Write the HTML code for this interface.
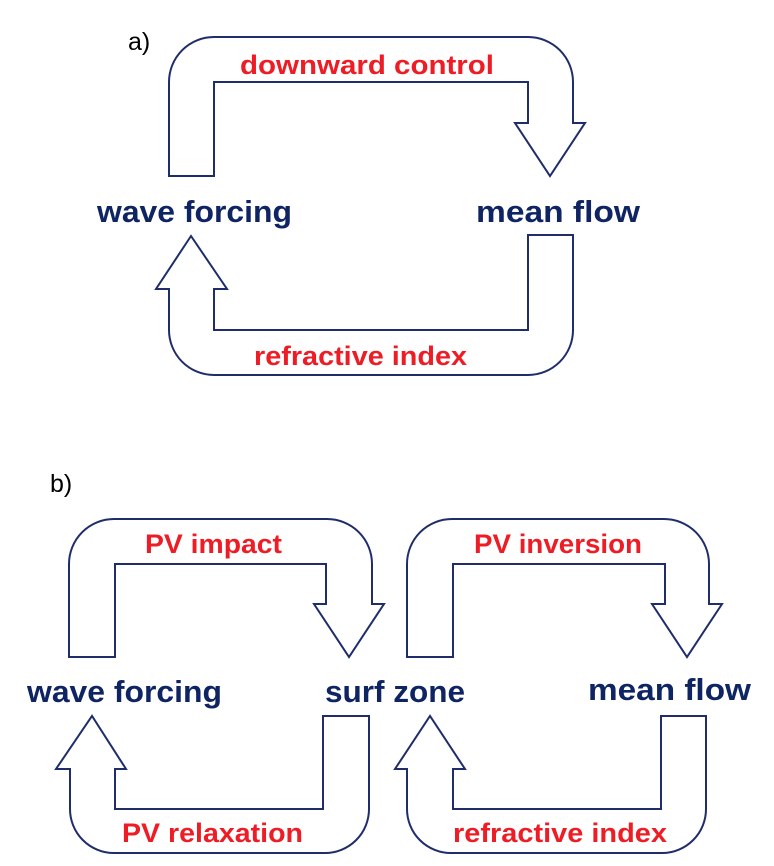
<!DOCTYPE html>
<html><head><meta charset="utf-8"><style>
html,body{margin:0;padding:0;background:#fff;}
svg{display:block;}
.n{font-family:"Liberation Sans",sans-serif;font-weight:bold;fill:#0f2462;font-size:31px;}
.r{font-family:"Liberation Sans",sans-serif;font-weight:bold;fill:#ee1c25;font-size:27px;}
.l{font-family:"Liberation Sans",sans-serif;fill:#000;font-size:25px;}
path{fill:#fff;stroke:#1f2d6b;stroke-width:2;stroke-linejoin:miter;}
</style></head><body>
<svg width="774" height="866" viewBox="0 0 774 866">
<g>
<text class="l" x="128" y="50">a)</text>
<path d="M169,176 L169,82 A45,45 0 0 1 214,37 L528,37 A45,45 0 0 1 573,82 L573,123 L585,123 L550,176 L515,123 L528,123 L528,82 L214,82 L214,176 Z"/>
<path d="M528,235 L573,235 L573,330 A45,45 0 0 1 528,375 L214,375 A45,45 0 0 1 169,330 L169,289 L156,289 L191,236 L227,289 L214,289 L214,330 L528,330 Z"/>
<text class="r" x="240" y="74" textLength="254" lengthAdjust="spacingAndGlyphs">downward control</text>
<text class="r" x="254" y="365" textLength="213" lengthAdjust="spacingAndGlyphs">refractive index</text>
<text class="n" x="97" y="222" textLength="195" lengthAdjust="spacingAndGlyphs">wave forcing</text>
<text class="n" x="476" y="222" textLength="164" lengthAdjust="spacingAndGlyphs">mean flow</text>
</g>
<g>
<text class="l" x="50" y="492">b)</text>
<path d="M69,657 L69,564 A45,45 0 0 1 114,519 L327,519 A45,45 0 0 1 372,564 L372,604 L384,604 L349,657 L314,604 L326,604 L326,564 L115,564 L115,657 Z"/>
<path d="M323,716 L369,716 L369,809 A44,44 0 0 1 325,853 L114,853 A44,44 0 0 1 70,809 L70,769 L56,769 L92,716 L126,769 L115,769 L115,809 L323,809 Z"/>
<path d="M407,657 L407,564 A45,45 0 0 1 452,519 L664,519 A45,45 0 0 1 709,564 L709,604 L722,604 L687,657 L652,604 L665,604 L665,564 L453,564 L453,657 Z"/>
<path d="M661,716 L706,716 L706,809 A44,44 0 0 1 662,853 L451,853 A44,44 0 0 1 407,809 L407,769 L395,769 L430,716 L465,769 L453,769 L453,809 L661,809 Z"/>
<text class="r" x="145" y="553" textLength="137" lengthAdjust="spacingAndGlyphs">PV impact</text>
<text class="r" x="474" y="553" textLength="168" lengthAdjust="spacingAndGlyphs">PV inversion</text>
<text class="r" x="122" y="842" textLength="181" lengthAdjust="spacingAndGlyphs">PV relaxation</text>
<text class="r" x="453" y="842" textLength="214" lengthAdjust="spacingAndGlyphs">refractive index</text>
<text class="n" x="27" y="702" textLength="195" lengthAdjust="spacingAndGlyphs">wave forcing</text>
<text class="n" x="325" y="702" textLength="140" lengthAdjust="spacingAndGlyphs">surf zone</text>
<text class="n" x="588" y="700" textLength="163" lengthAdjust="spacingAndGlyphs">mean flow</text>
</g>
</svg>
</body></html>
